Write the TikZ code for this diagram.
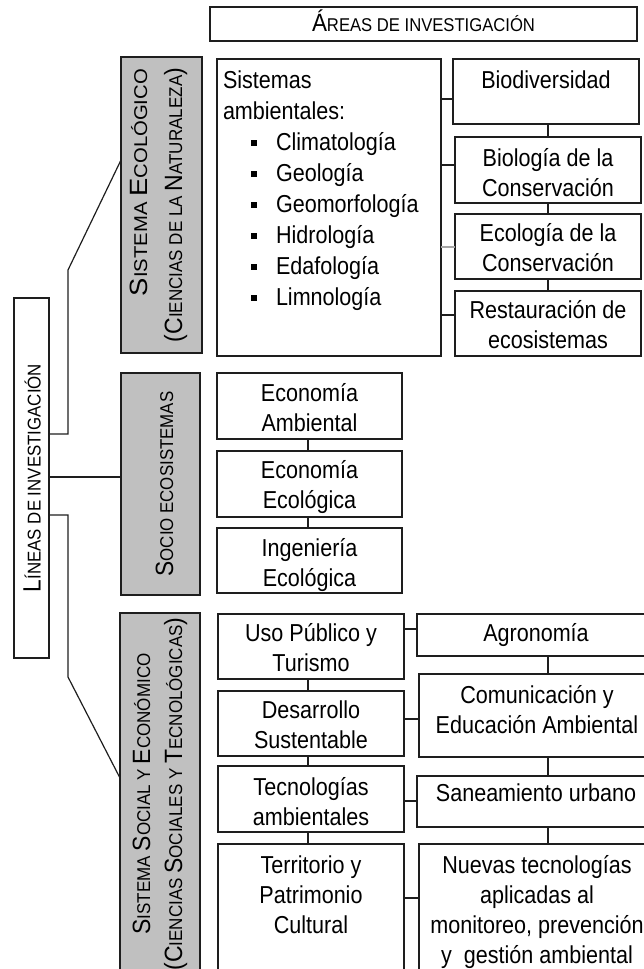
\documentclass[tikz,border=0pt]{standalone}
\usepackage{fontspec}
\usepackage{graphicx}
\setmainfont{Liberation Sans}
\newfontfamily\nfont[FakeStretch=0.88]{Liberation Sans}
\definecolor{gfill}{RGB}{192,192,192}
\definecolor{ink}{RGB}{30,30,30}
\newcommand\BC[1]{{\fontsize{25}{25}\selectfont #1}}
\newcommand\SM[1]{{\fontsize{18.5}{18.5}\selectfont #1}}
\newcommand\bxt[4]{\parbox[c][#2pt][t]{#1pt}{\nfont\fontsize{24.5}{30}\selectfont\centering\rule{0pt}{#3pt}#4\par}}
\newcommand\vbx[5]{\parbox[c][#2pt][t]{#1pt}{\fontsize{25}{#4}\selectfont\rule{0pt}{#3pt}#5\par}}
\newcommand\bul{\hspace*{27.7pt}\makebox[25.3pt][l]{\raisebox{4pt}{\rule{6.5pt}{6.5pt}}}}
\tikzset{
  box/.style={draw=ink, line width=1.2pt, inner sep=0pt, outer sep=0pt, anchor=north west},
  gbox/.style={draw=ink, fill=gfill, line width=1.2pt, inner sep=0pt, outer sep=0pt, rotate=90},
  wbox/.style={draw=ink, fill=white, line width=1.2pt, inner sep=0pt, outer sep=0pt, rotate=90},
  conn/.style={draw=ink, line width=1.2pt},
  connlight/.style={draw=gray!70, line width=1.2pt}
}
\begin{document}
\begin{tikzpicture}[x=1pt,y=-1pt]
\useasboundingbox (0,0) rectangle (644,969);

% header
\node[box] (hdr) at (210,7) {\parbox[c][34pt][t]{427pt}{\centering\rule{0pt}{24.5pt}\resizebox{223pt}{\height}{\BC{Á}\SM{REAS DE INVESTIGACIÓN}}\par}};

% left main box
\node[wbox] (lin) at (31.5,478) {\vbx{360}{35}{26.7}{30}{\makebox[360pt]{\resizebox{228pt}{\height}{\BC{L}\SM{ÍNEAS DE INVESTIGACIÓN}}}}};

% gray boxes
\node[gbox] (eco) at (161.5,205) {\vbx{296}{81}{26}{35}{\makebox[296pt][r]{\resizebox{227pt}{\height}{\BC{S}\SM{ISTEMA }\BC{E}\SM{COLÓGICO}}\hspace{12pt}}\\\makebox[296pt][r]{\resizebox{274pt}{\height}{\BC{(C}\SM{IENCIAS DE LA }\BC{N}\SM{ATURALEZA}\BC{)}}\hspace{11pt}}}};
\node[gbox] (soc) at (160.5,484) {\vbx{222}{79}{52}{30}{\makebox[222pt]{\resizebox{185pt}{\height}{\BC{S}\SM{OCIO ECOSISTEMAS}}}}};
\node[gbox] (sse) at (160,794) {\vbx{362}{80}{30}{32}{\makebox[362pt]{\resizebox{281pt}{\height}{\BC{S}\SM{ISTEMA }\BC{S}\SM{OCIAL Y }\BC{E}\SM{CONÓMICO}}}\\\makebox[362pt]{\resizebox{353pt}{\height}{\BC{(C}\SM{IENCIAS }\BC{S}\SM{OCIALES Y }\BC{T}\SM{ECNOLÓGICAS}\BC{)}}}}};

% ecological system
\node[box] (sis) at (217,59) {\parbox[c][297pt][t]{224pt}{\nfont\fontsize{24.5}{31}\selectfont\raggedright\leftskip=6pt\rule{0pt}{29pt}Sistemas\\ambientales:\\\bul Climatología\\\bul Geología\\\bul Geomorfología\\\bul Hidrología\\\bul Edafología\\\bul Limnología\par}};
\node[box] (bio) at (453,59) {\bxt{186}{65}{29}{Biodiversidad}};
\node[box] (bic) at (455,137) {\bxt{186}{66}{29}{Biología de la\\Conservación}};
\node[box] (ecc) at (455,214) {\bxt{186}{65}{27}{Ecología de la\\Conservación}};
\node[box] (res) at (455,291) {\bxt{186}{65}{27}{Restauración de\\ecosistemas}};

% socio ecosystems
\node[box] (ea) at (217,373) {\bxt{185}{66}{28}{Economía\\Ambiental}};
\node[box] (ee) at (217,451) {\bxt{185}{66}{27}{Economía\\Ecológica}};
\node[box] (ie) at (217,528) {\bxt{185}{65}{28}{Ingeniería\\Ecológica}};

% social and economic system
\node[box] (uso) at (218,614) {\bxt{186}{65}{27}{Uso Público y\\Turismo}};
\node[box] (des) at (218,691) {\bxt{186}{65}{27}{Desarrollo\\Sustentable}};
\node[box] (tec) at (218,766) {\bxt{186}{66}{29}{Tecnologías\\ambientales}};
\node[box] (ter) at (218,844) {\bxt{186}{160}{29}{Territorio y\\Patrimonio\\Cultural}};
\node[box] (agr) at (417,614) {\bxt{238}{42}{27}{Agronomía}};
\node[box] (com) at (419,674) {\bxt{236}{83}{29}{Comunicación y\\Educación Ambiental}};
\node[box] (san) at (417,776) {\bxt{238}{51}{25}{Saneamiento urbano}};
\node[box] (nue) at (419,844) {\bxt{236}{160}{29}{Nuevas tecnologías\\aplicadas al\\monitoreo, prevención\\y\ \ gestión ambiental}};

% helper coordinates
\coordinate (xr) at (548,0);
\coordinate (xl) at (308,0);
\coordinate (y99) at (0,99);
\coordinate (y165) at (0,165);
\coordinate (y247) at (0,247);
\coordinate (y315) at (0,315);
\coordinate (y629) at (0,629);
\coordinate (y719) at (0,719);
\coordinate (y801) at (0,801);
\coordinate (y898) at (0,898);
\coordinate (y160) at (0,160);
\coordinate (y477) at (0,477);
\coordinate (y778) at (0,778);
\coordinate (ja) at (68,434);
\coordinate (jb) at (68,270);
\coordinate (jc) at (68,515);
\coordinate (jd) at (68,677);

% connectors: ecological
\draw[conn] (sis.east |- y99) -- (bio.west |- y99);
\draw[conn] (sis.east |- y165) -- (bic.west |- y165);
\draw[connlight] (sis.east |- y247) -- (ecc.west |- y247);
\draw[conn] (sis.east |- y315) -- (res.west |- y315);
\draw[conn] (bio.south -| xr) -- (bic.north -| xr);
\draw[conn] (bic.south -| xr) -- (ecc.north -| xr);
\draw[conn] (ecc.south -| xr) -- (res.north -| xr);

% connectors: socio
\draw[conn] (ea.south -| xl) -- (ee.north -| xl);
\draw[conn] (ee.south -| xl) -- (ie.north -| xl);

% connectors: social
\draw[conn] (uso.south -| xl) -- (des.north -| xl);
\draw[conn] (des.south -| xl) -- (tec.north -| xl);
\draw[conn] (tec.south -| xl) -- (ter.north -| xl);
\draw[conn] (agr.south -| xr) -- (com.north -| xr);
\draw[conn] (com.south -| xr) -- (san.north -| xr);
\draw[conn] (san.south -| xr) -- (nue.north -| xr);
\draw[conn] (uso.east |- y629) -- (agr.west |- y629);
\draw[conn] (des.east |- y719) -- (com.west |- y719);
\draw[conn] (tec.east |- y801) -- (san.west |- y801);
\draw[conn] (ter.east |- y898) -- (nue.west |- y898);

% connectors: main lines
\draw[conn] (lin.south |- ja) -- (ja) -- (jb) -- (eco.north |- y160);
\draw[conn] (lin.south |- y477) -- (soc.north |- y477);
\draw[conn] (lin.south |- jc) -- (jc) -- (jd) -- (sse.north |- y778);
\end{tikzpicture}
\end{document}
